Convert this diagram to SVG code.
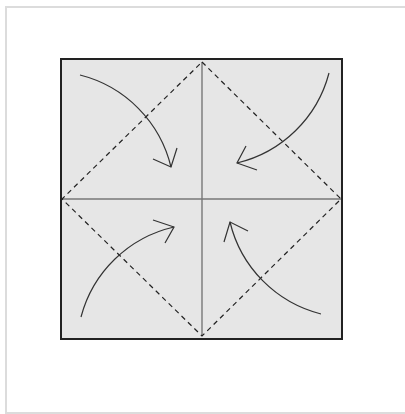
<svg xmlns="http://www.w3.org/2000/svg" width="405" height="414" viewBox="0 0 405 414">
<style>
.frame{fill:#ffffff;stroke:#dcdcdc;stroke-width:2}
.sheet{fill:#e6e6e6;stroke:#222;stroke-width:2}
.crease{stroke:#777;stroke-width:1.4;fill:none}
.dash{stroke:#222;stroke-width:1.2;fill:none;stroke-dasharray:5 4}
.arrow{stroke:#333;stroke-width:1.2;fill:none}
</style>
<rect class="frame" x="6" y="7" width="410" height="406"/>
<g id="sheet">
<rect class="sheet" x="61" y="59" width="281" height="280"/>
<line class="crease" x1="202" y1="62" x2="202" y2="336"/>
<line class="crease" x1="62" y1="199" x2="341" y2="199"/>
<path class="dash" d="M202 62 L341 199 L202 336 L62 199 Z"/>
</g>
<g id="connectors">
<g id="arrow-tl"><path class="arrow" d="M80 75 A125 125 0 0 1 171 167"/><path class="arrow" d="M153 159 L171 167 L177 148"/></g>
<g id="arrow-tr"><path class="arrow" d="M329 73 A125 125 0 0 1 237 163"/><path class="arrow" d="M246 146 L237 163 L257 170"/></g>
<g id="arrow-bl"><path class="arrow" d="M81 317 A125 125 0 0 1 174 227"/><path class="arrow" d="M153 220 L174 227 L165 243"/></g>
<g id="arrow-br"><path class="arrow" d="M321 314 A125 125 0 0 1 230 222"/><path class="arrow" d="M224 242 L230 222 L248 231"/></g>
</g>
</svg>
